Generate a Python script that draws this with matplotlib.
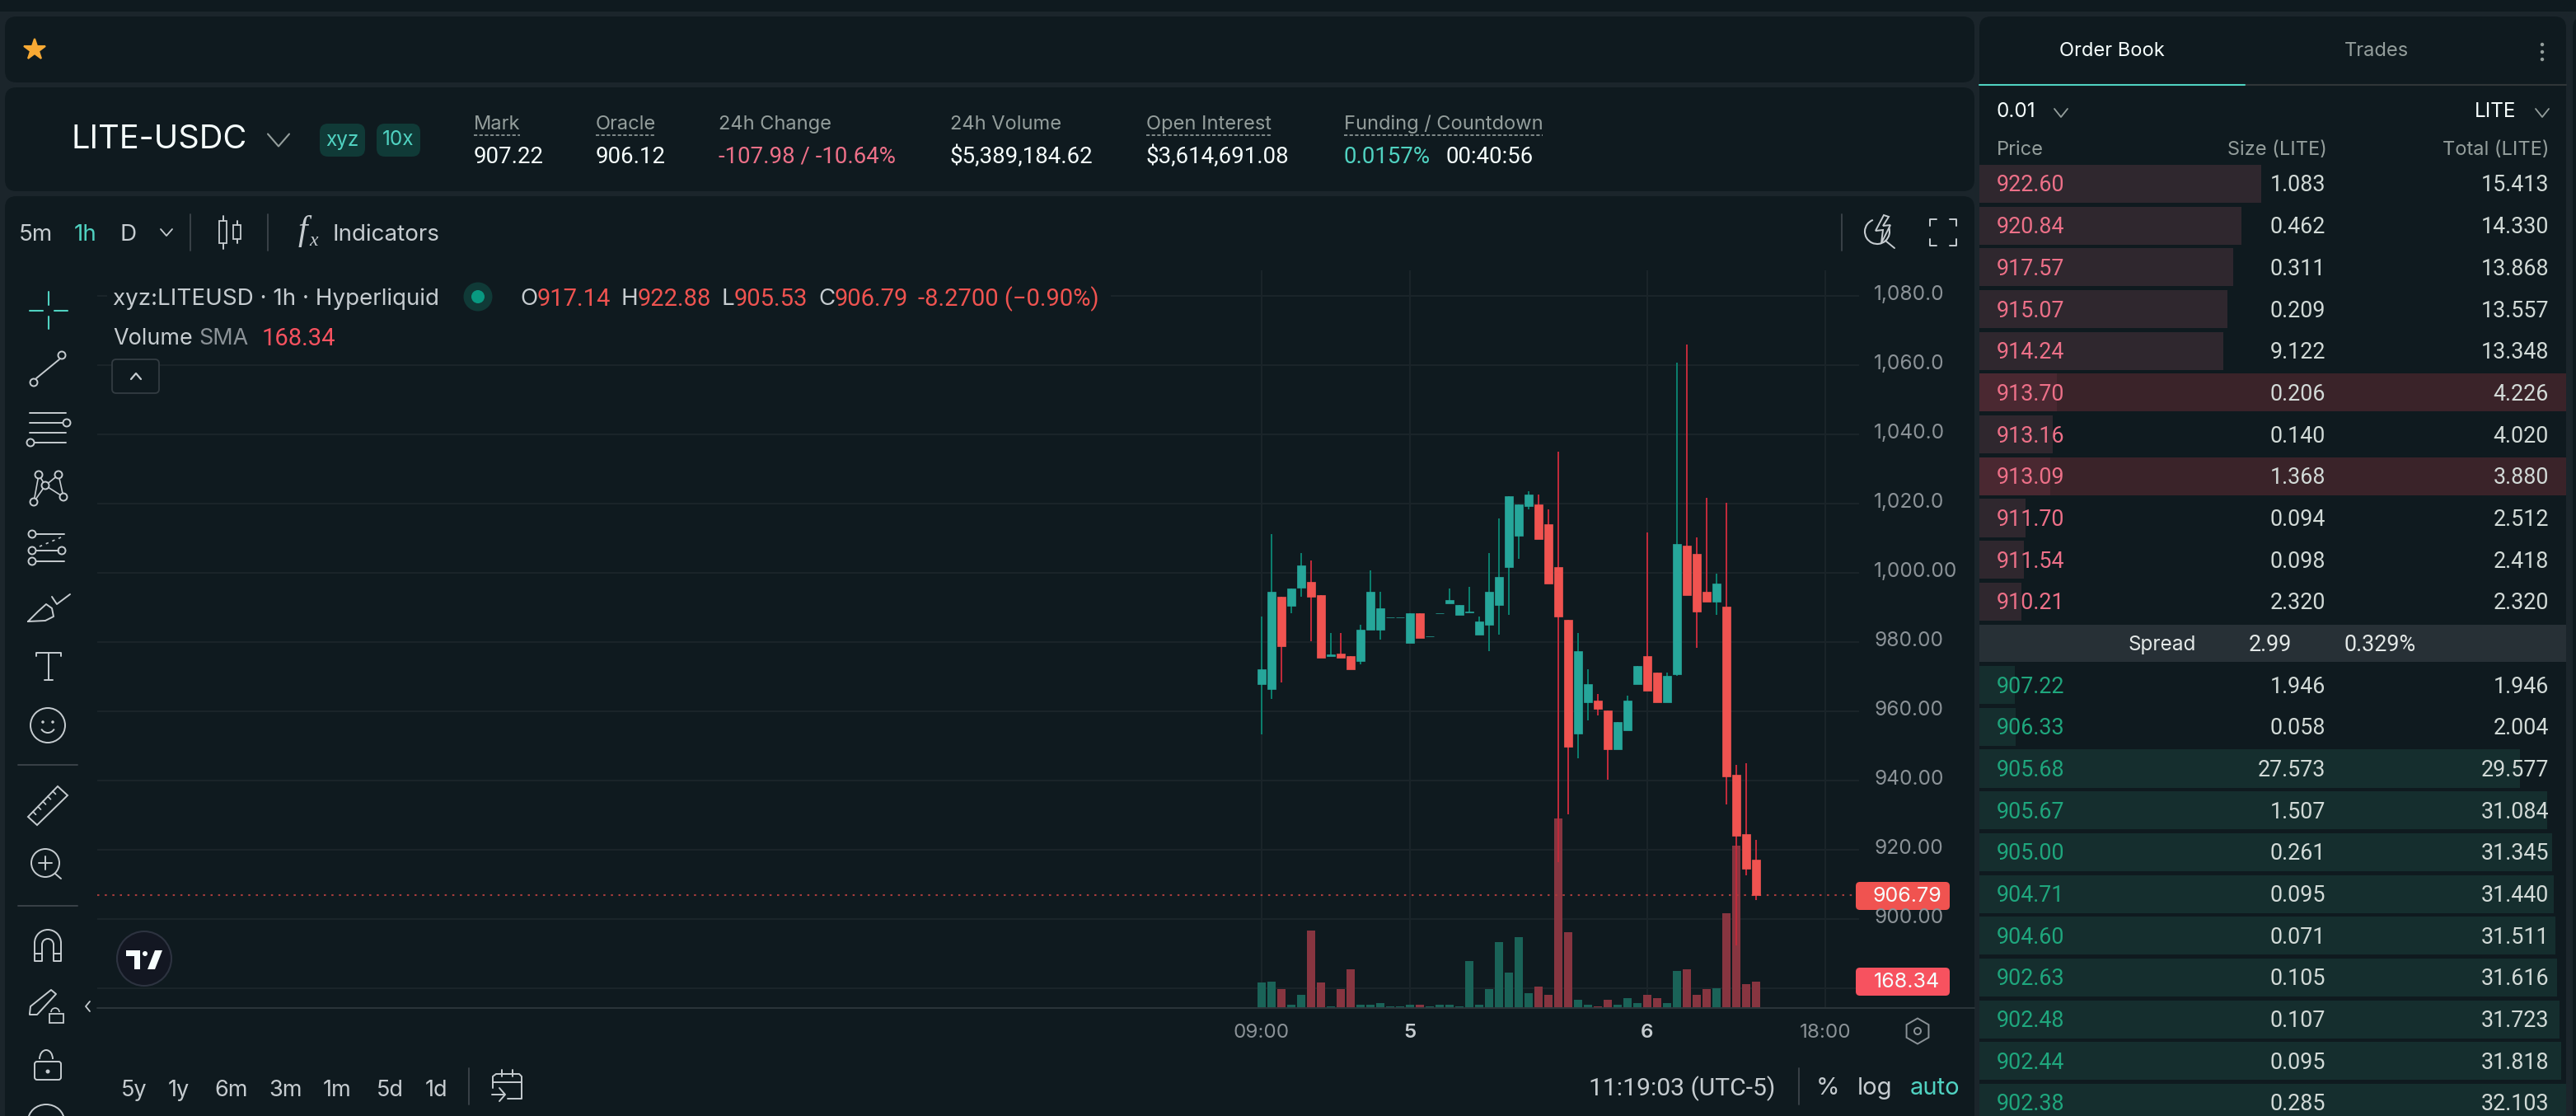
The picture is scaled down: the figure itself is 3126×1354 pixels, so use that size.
import numpy as np
import matplotlib
matplotlib.use("Agg")
import matplotlib.pyplot as plt
from matplotlib.patches import FancyBboxPatch, Rectangle, Circle, Polygon, Arc, RegularPolygon

plt.rcParams['font.family'] = ['Inter', 'DejaVu Sans']
NUM = ['Roboto', 'DejaVu Sans']

# ---------- chart data ----------
opens = [967.95,966.54,993.07,990.39,995.62,997.28,993.58,975.98,976.75,975.98,974.58,983.51,983.51,987.21,987.21,979.80,988.35,
         981.59,988.23,991.16,987.84,988.48,982.10,985.04,990.78,1001.62,1010.67,1019.22,1019.73,1013.99,1001.62,986.44,953.66,
         962.59,963.10,960.16,948.94,954.55,967.82,975.98,971.13,962.59,970.75,1007.74,1005.45,994.48,991.67,990.27,941.67,924.58,917.14]
closes = [972.15,994.48,978.91,995.37,1002.13,993.07,975.47,976.49,975.47,972.15,983.51,994.48,989.76,987.21,987.21,988.35,981.21,
          981.59,988.23,992.18,990.65,988.86,985.93,994.48,998.81,1022.15,1019.73,1022.66,1009.78,996.90,987.33,949.83,977.38,
          967.82,960.67,948.94,956.85,963.10,973.05,965.90,962.59,970.24,1008.25,993.58,988.86,991.67,996.90,941.16,924.07,914.50,906.79]
highs = [987.33,1011.18,993.07,995.37,1005.83,1003.53,993.58,982.61,982.61,975.98,984.91,1000.60,994.48,987.21,987.21,988.35,988.35,
         981.59,988.23,995.37,990.65,995.88,987.33,1005.83,1015.78,1022.15,1019.73,1023.56,1022.66,1018.33,1034.91,986.44,982.61,
         972.15,965.01,960.16,956.85,964.50,973.05,1011.57,971.13,971.13,1060.67,1065.90,1010.16,1021.64,999.70,1020.24,944.48,945.00,922.88]
lows = [953.28,963.61,968.33,988.35,993.07,980.32,975.47,975.98,975.47,972.15,973.56,983.51,980.70,987.21,987.21,979.80,981.21,
        981.59,988.23,991.16,987.84,988.48,982.10,977.38,982.10,987.84,1004.04,1018.33,1009.78,996.90,916.54,930.19,946.39,
        957.36,958.76,940.14,948.94,954.55,967.82,965.90,962.59,962.59,970.24,993.58,978.40,991.67,987.84,933.13,892.30,912.59,905.53]
volumes = [160,168,117,20,83,488,160,9,117,243,20,20,29,9,9,20,20,9,20,20,9,297,20,117,414,223,445,94,137,83,1193,479,51,20,9,51,20,
           63,31,83,63,31,234,243,83,117,126,596,1021,148,168.34]
price_ticks = [1080, 1060, 1040, 1020, 1000, 980, 960, 940, 920, 900, 880]
price_labels = ['1,080.0', '1,060.0', '1,040.0', '1,020.0', '1,000.00', '980.00', '960.00', '940.00', '920.00', '900.00']
time_ticks = [0, 15, 39, 57]
time_labels = ['09:00', '5', '6', '18:00']
last_close = 906.79

ask_prices = ['922.60','920.84','917.57','915.07','914.24','913.70','913.16','913.09','911.70','911.54','910.21']
ask_sizes = ['1.083','0.462','0.311','0.209','9.122','0.206','0.140','1.368','0.094','0.098','2.320']
ask_totals = [15.413,14.330,13.868,13.557,13.348,4.226,4.020,3.880,2.512,2.418,2.320]
ask_highlight = [5, 7]
bid_prices = ['907.22','906.33','905.68','905.67','905.00','904.71','904.60','902.63','902.48','902.44','902.38']
bid_sizes = ['1.946','0.058','27.573','1.507','0.261','0.095','0.071','0.105','0.107','0.095','0.285']
bid_totals = [1.946,2.004,29.577,31.084,31.345,31.440,31.511,31.616,31.723,31.818,32.103]

# ---------- style ----------
W, H = 3126, 1354
BG = '#0f1a1f'; GAP = '#1b252b'; GRID = '#1a2429'
WHITE = '#f6fefd'; GREY = '#949e9c'; ICON = '#c6ccd0'; TEAL = '#50d2c1'
UP = '#26a69a'; UPW = '#0b7d6c'; DN = '#f05350'; DNW = '#bf2a3a'
VUP = '#1a6358'; VDN = '#873540'
RED = '#ef5350'; AXT = '#8b9297'; SEP = '#3a4248'

fig = plt.figure(figsize=(W/100, H/100), dpi=100, facecolor=GAP)
def rect(x0, y0, x1, y1):
    return [x0/W, 1-y1/H, (x1-x0)/W, (y1-y0)/H]

back = fig.add_axes([0, 0, 1, 1], zorder=0)
back.set_xlim(0, W); back.set_ylim(H, 0); back.axis('off')
front = fig.add_axes([0, 0, 1, 1], zorder=5)
front.set_xlim(0, W); front.set_ylim(H, 0); front.axis('off'); front.patch.set_alpha(0)

def panel(x0, y0, x1, y1):
    back.add_patch(FancyBboxPatch((x0+10, y0+10), x1-x0-20, y1-y0-20, boxstyle='round,pad=10,rounding_size=14',
                                  fc=BG, ec='none', mutation_aspect=1))
back.add_patch(Rectangle((0, 0), W, 14, fc=BG, ec='none'))
panel(6, 20, 2396, 100); panel(6, 106, 2396, 232); panel(6, 238, 2396, 1400)
panel(2402, 20, 3114, 1400); panel(3122, 20, 3200, 1400)

# ---------- grid, volume and price axes ----------
XLIM = (-117.75, 60.42)
YLIM = (874.29, 1087.38)
grid_ax = fig.add_axes(rect(118, 328, 2256, 1223), zorder=0.5)
grid_ax.set_xlim(XLIM); grid_ax.set_ylim(YLIM); grid_ax.axis('off'); grid_ax.patch.set_visible(False)
for t in price_ticks:
    grid_ax.axhline(t, color=GRID, lw=1.5)
for t in time_ticks:
    grid_ax.axvline(t, color=GRID, lw=1.5)

ax_v = fig.add_axes(rect(118, 328, 2256, 1223), zorder=1)
ax_v.set_xlim(XLIM); ax_v.set_ylim(0, 4636); ax_v.axis('off'); ax_v.patch.set_visible(False)

ax = fig.add_axes(rect(118, 328, 2256, 1223), zorder=2)
ax.set_xlim(XLIM); ax.set_ylim(YLIM); ax.axis('off'); ax.patch.set_visible(False)

xs = np.arange(len(opens))
o, c, h, l, v = map(np.array, (opens, closes, highs, lows, volumes))
up = c >= o
for sel, body, wick, vol in ((up, UP, UPW, VUP), (~up, DN, DNW, VDN)):
    ax_v.bar(xs[sel], v[sel], width=0.83, color=vol, lw=0)
    ax.vlines(xs[sel], l[sel], h[sel], color=wick, lw=1.45, zorder=3)
    ax.bar(xs[sel], np.abs(c-o)[sel], bottom=np.minimum(o, c)[sel], width=0.83, color=body, edgecolor=body, lw=0.5, zorder=4)
ax.axhline(last_close, color='#a83c3c', lw=1.5, ls=(0, (1.2, 3.2)), zorder=2)

# ---------- helpers ----------
def T(x, y, s, color=WHITE, size=17.5, ha='left', va='center', **kw):
    return front.text(x, y+2, s, color=color, fontsize=size, ha=ha, va=va, **kw)
def L(pts, color=ICON, lw=1.4, **kw):
    p = np.array(pts)
    front.plot(p[:, 0], p[:, 1], color=color, lw=lw, solid_capstyle='round', **kw)
def O(x, y, r, color=ICON, lw=1.4, fc='none', z=6):
    front.add_patch(Circle((x, y), r, fc=fc, ec=color, lw=lw, zorder=z))
def chev(x, y, w, h, color=GREY, lw=1.3):
    L([(x-w, y-h), (x, y+h), (x+w, y-h)], color=color, lw=lw)

# ---------- header ----------
front.plot([42], [60], marker='*', ms=19, color='#f7a934', mec='#f7a934', mew=1.5)
T(86, 168, 'LITE-USDC', size=28.6)
chev(338, 170, 13, 7.5, lw=1.5)
for x0, x1, s in ((388, 443, 'xyz'), (457, 510, '10x')):
    front.add_patch(FancyBboxPatch((x0+8, 158), x1-x0-16, 24, boxstyle='round,pad=8,rounding_size=10', fc='#103a37', ec='none'))
    T((x0+x1)/2, 168, s, color=TEAL, size=17.5, ha='center')
labels = [(575, 'Mark', 56), (723, 'Oracle', 73), (872, '24h Change', 0), (1153, '24h Volume', 0), (1391, 'Open Interest', 153), (1631, 'Funding / Countdown', 241)]
for x, s, u in labels:
    T(x, 149, s, color=GREY, size=17)
    if u:
        L([(x, 164), (x+u, 164)], color=GREY, lw=1.2, ls=(0, (2.5, 1.5)))
for x, s, cl in ((575, '907.22', WHITE), (723, '906.12', WHITE), (872, '-107.98 / -10.64%', '#ed7088'),
                 (1153, '$5,389,184.62', WHITE), (1391, '$3,614,691.08', WHITE), (1631, '0.0157%', TEAL), (1755, '00:40:56', WHITE)):
    T(x, 188, s, color=cl, size=19.9, family=NUM)

# ---------- chart toolbar ----------
T(23, 283, '5m', color=ICON, size=20); T(90, 283, '1h', color=TEAL, size=20); T(145, 283, 'D', color=ICON, size=20)
chev(202, 282, 7, 4, color=ICON)
for x in (231, 325, 2235):
    L([(x, 260), (x, 304)], color=SEP, lw=1.4)
for x0, x1, y0, y1, w0, w1 in ((266, 275, 268, 295, 262, 302), (283, 292, 273, 290, 268, 295)):
    front.add_patch(Rectangle((x0, y0), x1-x0, y1-y0, fc='none', ec=ICON, lw=1.3))
    L([((x0+x1)/2, w0), ((x0+x1)/2, y0)]); L([((x0+x1)/2, y1), ((x0+x1)/2, w1)])
front.text(367, 281, 'f', family='Liberation Serif', style='italic', color=ICON, fontsize=30, ha='center', va='center')
front.text(381, 293, 'x', family='Liberation Serif', style='italic', color=ICON, fontsize=17, ha='center', va='center')
T(404, 283, 'Indicators', color=ICON, size=20)
front.add_patch(Arc((2278, 281), 30, 30, theta1=-20, theta2=250, ec=ICON, lw=1.5))
L([(2288, 292), (2299, 301)])
front.add_patch(Polygon([(2286, 261), (2276, 280), (2285, 279), (2283, 295), (2294, 273), (2285, 274), (2292, 263)], fc=BG, ec=ICON, lw=1.4, zorder=7))
for (a, b, dx, dy) in ((2342, 266, 1, 1), (2374, 266, -1, 1), (2342, 298, 1, -1), (2374, 298, -1, -1)):
    L([(a+8*dx, b), (a, b), (a, b+8*dy)])

# ---------- chart legend ----------
front.add_patch(Rectangle((130, 342), 1218, 38, fc=BG, ec='none', zorder=0.5))
T(137, 361, 'xyz:LITEUSD · 1h · Hyperliquid', color=ICON, size=20)
O(580, 360, 17.5, color='none', fc='#103a37'); O(580, 360, 8, color='none', fc='#089981', z=7)
for x, s, cl in ((631, 'O', ICON), (754, 'H', ICON), (876, 'L', ICON), (993, 'C', ICON)):
    T(x, 361, s, color=cl, size=20)
for x, s in ((652, '917.14'), (774, '922.88'), (891, '905.53'), (1013, '906.79'), (1114, '-8.2700 (−0.90%)')):
    T(x, 361, s, color=RED, size=21, family=NUM)
T(137, 409, 'Volume', color=ICON, size=19.4); T(241, 409, 'SMA', color=AXT, size=19.4)
T(318, 409, '168.34', color='#f7525f', size=21, family=NUM)
front.add_patch(FancyBboxPatch((140, 440), 49, 33, boxstyle='round,pad=4,rounding_size=5', fc=BG, ec='#333c42', lw=1.3))
L([(159, 460), (165, 453), (171, 460)], lw=1.6)

# ---------- price / time scale ----------
for t, s in zip(price_ticks, price_labels):
    y = 1115 - (t-900)*4.2 - 4
    T(2274, y, s, color=AXT, size=17.6)
front.add_patch(FancyBboxPatch((2256, 1074), 106, 26, boxstyle='round,pad=4,rounding_size=5', fc='#f05350', ec='none'))
front.add_patch(Rectangle((2256, 1070), 10, 34, fc='#f05350', ec='none'))
T(2273, 1085, '906.79', color=WHITE, size=18)
front.add_patch(FancyBboxPatch((2256, 1178), 106, 26, boxstyle='round,pad=4,rounding_size=5', fc='#f7525f', ec='none'))
front.add_patch(Rectangle((2256, 1174), 10, 34, fc='#f7525f', ec='none'))
T(2274, 1189, '168.34', color=WHITE, size=18)
L([(118, 1223), (2396, 1223)], color='#2b353a', lw=1.4)
for xt, s in zip(time_ticks, time_labels):
    xp = 1531 + 12*xt
    bold = len(s) == 1
    T(xp, 1251, s, color=ICON if bold else AXT, size=17.4, ha='center', weight='semibold' if bold else 'normal')
front.add_patch(RegularPolygon((2327, 1251), 6, radius=15.5, fc='none', ec=AXT, lw=1.4))
O(2327, 1251, 4, color=AXT)
for x, s in ((147, '5y'), (204, '1y'), (260, '6m'), (326, '3m'), (392, '1m'), (457, '5d'), (516, '1d')):
    T(x, 1321, s, color=ICON, size=19.5)
for x in (569, 2183):
    L([(x, 1296), (x, 1340)], color=SEP)
L([(598, 1320), (598, 1306), (602, 1303), (630, 1303), (633, 1306), (633, 1333), (616, 1333)])
L([(598, 1313), (633, 1313)]); L([(609, 1298), (609, 1306)]); L([(622, 1298), (622, 1306)])
L([(597, 1328), (612, 1328)]); L([(606, 1320), (613, 1328), (606, 1336)])
T(1928, 1319, '11:19:03 (UTC-5)', color=ICON, size=21.6, family=NUM)
T(2218, 1319, '%', color=ICON, size=21, ha='center')
T(2275, 1319, 'log', color=ICON, size=21, ha='center')
T(2348, 1319, 'auto', color=TEAL, size=21, ha='center')

# ---------- drawing tools ----------
for seg in (((59, 354), (59, 370)), ((59, 384), (59, 399)), ((36, 377), (52, 377)), ((66, 377), (82, 377))):
    L(seg, color=TEAL, lw=1.5)
L([(44, 459), (72, 436)]); O(41, 464, 4.5); O(75, 431, 4.5)
L([(36, 501), (80, 501)]); L([(36, 513), (76, 513)]); L([(36, 525), (80, 525)]); L([(42, 537), (80, 537)])
O(81, 513, 4.5); O(37, 537, 4.5)
pts = [(47, 576), (71, 576), (55, 589), (41, 609), (77, 603)]
for a, b in ((0, 3), (0, 2), (2, 4), (1, 2), (2, 3), (1, 4)):
    L([pts[a], pts[b]], lw=1.2)
for p in pts:
    O(p[0], p[1], 4.5, fc=BG)
for y, x0, x1 in ((648, 44, 78), (668, 44, 71), (681, 44, 78)):
    L([(x0, y), (x1, y)])
for p in ((39, 648), (39, 668), (75, 668), (39, 681)):
    O(p[0], p[1], 4.5)
L([(48, 663), (74, 652)], lw=1.2, ls=(0, (2, 3)))
L([(34, 754), (46, 742), (56, 733), (63, 738), (65, 748), (55, 753), (34, 754)])
L([(63, 724), (69, 733), (85, 721)])
L([(44, 796), (44, 792), (74, 792), (74, 796)]); L([(59, 792), (59, 825)]); L([(54, 825), (64, 825)])
O(58, 880, 21); O(52, 876, 0.8); O(64, 876, 0.8)
front.add_patch(Arc((58, 880), 18, 18, theta1=30, theta2=150, ec=ICON, lw=1.4))
L([(22, 928), (94, 928)], color=SEP); L([(22, 1099), (94, 1099)], color=SEP)
front.add_patch(Polygon([(34, 991), (70, 954), (82, 965), (45, 1001)], closed=True, fc='none', ec=ICON, lw=1.4))
for k in range(1, 6):
    xa, ya = 34+6*k, 991-6.2*k
    L([(xa, ya), (xa+3.5, ya+3.5)], lw=1.2)
O(55, 1047, 17); L([(67, 1060), (74, 1066)]); L([(47, 1047), (63, 1047)]); L([(55, 1039), (55, 1055)])
front.add_patch(Arc((58, 1144), 32, 32, theta1=180, theta2=360, ec=ICON, lw=1.4))
front.add_patch(Arc((58, 1146), 14, 14, theta1=180, theta2=360, ec=ICON, lw=1.4))
L([(42, 1144), (42, 1166), (51, 1166), (51, 1146)]); L([(74, 1144), (74, 1166), (65, 1166), (65, 1146)])
L([(42, 1157), (51, 1157)]); L([(65, 1157), (74, 1157)])
L([(36, 1230), (37, 1221), (62, 1201), (68, 1206), (45, 1231), (36, 1231)])
front.add_patch(Rectangle((60, 1230), 17, 11, fc='none', ec=ICON, lw=1.3))
front.add_patch(Arc((67, 1228), 10, 10, theta1=180, theta2=360, ec=ICON, lw=1.2))
front.add_patch(FancyBboxPatch((45, 1291), 26, 16, boxstyle='round,pad=3,rounding_size=3', fc='none', ec=ICON, lw=1.4))
front.add_patch(Arc((56, 1285), 16, 22, theta1=180, theta2=360, ec=ICON, lw=1.4))
O(58, 1300, 1.5, fc=ICON)
front.add_patch(Arc((56, 1360), 44, 40, theta1=180, theta2=360, ec=ICON, lw=1.4))
L([(109, 1215), (104, 1221), (109, 1227)], lw=1.3)
front.add_patch(Circle((175, 1163), 33, fc='#131722', ec='#2d3340', lw=1.5))
front.add_patch(Polygon([(153, 1153), (170, 1153), (170, 1176), (163, 1176), (163, 1160), (153, 1160)], fc=WHITE, ec='none'))
front.add_patch(Polygon([(188, 1153), (197, 1153), (188, 1176), (179, 1176)], fc=WHITE, ec='none'))
O(176, 1157, 3, color='none', fc=WHITE)

# ---------- order book ----------
book = fig.add_axes(rect(2402, 198, 3114, 1354), zorder=1)
book.set_xlim(0, 32.103)
book.set_ylim(22.316, -0.4933)
book.axis('off'); book.patch.set_visible(False)
rows_a = np.arange(len(ask_totals))
rows_b = np.arange(len(bid_totals)) + 12
book.barh(rows_a, ask_totals, height=0.91, color=['#4a2831' if i in ask_highlight else '#2f272e' for i in rows_a], lw=0, zorder=2)
book.barh(ask_highlight, [32.103]*len(ask_highlight), height=0.91, color='#3a2329', lw=0, zorder=1)
book.barh(rows_b, bid_totals, height=0.91, color='#152e2e', lw=0, zorder=2)
book.barh([11], [32.103], height=0.89, color='#273036', lw=0, zorder=2)

def rowy(r):
    return 223 + 50.68*r
BOOK_SZ = 19.4
for r, (p, s, t) in enumerate(zip(ask_prices, ask_sizes, ask_totals)):
    y = rowy(r)
    T(2423, y, p, color='#ed7088', size=BOOK_SZ, family=NUM)
    T(2822, y, s, color='#d2dad7', ha='right', size=BOOK_SZ, family=NUM)
    T(3093, y, f'{t:.3f}', color='#d2dad7', ha='right', size=BOOK_SZ, family=NUM)
for r, (p, s, t) in enumerate(zip(bid_prices, bid_sizes, bid_totals)):
    y = rowy(r+12)
    T(2423, y, p, color='#1fa67d', size=BOOK_SZ, family=NUM)
    T(2822, y, s, color='#d2dad7', ha='right', size=BOOK_SZ, family=NUM)
    T(3093, y, f'{t:.3f}', color='#d2dad7', ha='right', size=BOOK_SZ, family=NUM)
T(2583, rowy(11), 'Spread', color='#e3e8e7'); T(2729, rowy(11), '2.99', color='#e3e8e7', size=BOOK_SZ, family=NUM)
T(2845, rowy(11), '0.329%', color='#e3e8e7', size=BOOK_SZ, family=NUM)

T(2563, 60, 'Order Book', ha='center', size=17); T(2884, 60, 'Trades', color=GREY, ha='center', size=17)
for y in (54, 63, 72):
    O(3085, y, 2.2, color='none', fc=GREY)
L([(2724, 103), (3114, 103)], color='#303638', lw=1.5)
L([(2402, 103), (2724, 103)], color=TEAL, lw=1.5)
T(2423, 133, '0.01', size=17.5); chev(2501, 137, 8, 5)
T(3003, 133, 'LITE', size=17.5); chev(3085, 137, 8, 5)
T(2423, 180, 'Price', color=GREY, size=17)
T(2824, 180, 'Size (LITE)', color=GREY, size=17, ha='right')
T(3093, 180, 'Total (LITE)', color=GREY, size=17, ha='right')

fig.savefig('out.png', dpi=100, facecolor=GAP)
